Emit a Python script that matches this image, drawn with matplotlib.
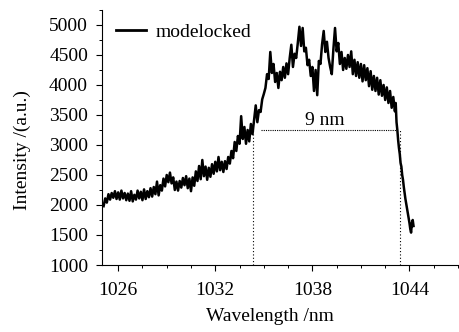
import matplotlib
matplotlib.use("Agg")
import matplotlib.pyplot as plt
from matplotlib.ticker import MultipleLocator, FixedLocator

plt.rcParams['font.family'] = ['Liberation Serif', 'DejaVu Serif']

# spectrum (nm, a.u.)
wavelength = [
    1025.1, 1025.2, 1025.3, 1025.4, 1025.5, 1025.6, 1025.7, 1025.8, 1025.9, 1026.0,
    1026.1, 1026.2, 1026.3, 1026.4, 1026.5, 1026.6, 1026.7, 1026.8, 1026.9, 1027.0,
    1027.1, 1027.2, 1027.3, 1027.4, 1027.5, 1027.6, 1027.7, 1027.8, 1027.9, 1028.0,
    1028.1, 1028.2, 1028.3, 1028.4, 1028.5, 1028.6, 1028.7, 1028.8, 1028.9, 1029.0,
    1029.1, 1029.2, 1029.3, 1029.4, 1029.5, 1029.6, 1029.7, 1029.8, 1029.9, 1030.0,
    1030.1, 1030.2, 1030.3, 1030.4, 1030.5, 1030.6, 1030.7, 1030.8, 1030.9, 1031.0,
    1031.1, 1031.2, 1031.3, 1031.4, 1031.5, 1031.6, 1031.7, 1031.8, 1031.9, 1032.0,
    1032.1, 1032.2, 1032.3, 1032.4, 1032.5, 1032.6, 1032.7, 1032.8, 1032.9, 1033.0,
    1033.1, 1033.2, 1033.3, 1033.4, 1033.5, 1033.6, 1033.7, 1033.8, 1033.9, 1034.0,
    1034.1, 1034.2, 1034.3, 1034.4, 1034.5, 1034.6, 1034.7, 1034.8, 1034.9, 1035.0,
    1035.1, 1035.2, 1035.3, 1035.4, 1035.5, 1035.6, 1035.7, 1035.8, 1035.9, 1036.0,
    1036.1, 1036.2, 1036.3, 1036.4, 1036.5, 1036.6, 1036.7, 1036.8, 1036.9, 1037.0,
    1037.1, 1037.2, 1037.3, 1037.4, 1037.5, 1037.6, 1037.7, 1037.8, 1037.9, 1038.0,
    1038.1, 1038.2, 1038.3, 1038.4, 1038.5, 1038.6, 1038.7, 1038.8, 1038.9, 1039.0,
    1039.1, 1039.2, 1039.3, 1039.4, 1039.5, 1039.6, 1039.7, 1039.8, 1039.9, 1040.0,
    1040.1, 1040.2, 1040.3, 1040.4, 1040.5, 1040.6, 1040.7, 1040.8, 1040.9, 1041.0,
    1041.1, 1041.2, 1041.3, 1041.4, 1041.5, 1041.6, 1041.7, 1041.8, 1041.9, 1042.0,
    1042.1, 1042.2, 1042.3, 1042.4, 1042.5, 1042.6, 1042.7, 1042.8, 1042.9, 1043.0,
    1043.1, 1043.15, 1043.2, 1043.25, 1043.3, 1043.35, 1043.4, 1043.45, 1043.5, 1043.55,
    1043.6, 1043.65, 1043.7, 1043.75, 1043.8, 1043.85, 1043.9, 1043.95, 1044.0, 1044.05,
    1044.1, 1044.15, 1044.2, 1044.25,
]
intensity = [
    1980, 2110, 2040, 2180, 2090, 2200, 2120, 2230, 2100, 2210,
    2090, 2240, 2110, 2200, 2080, 2190, 2070, 2230, 2060, 2170,
    2090, 2240, 2110, 2220, 2080, 2260, 2100, 2230, 2130, 2280,
    2140, 2300, 2180, 2390, 2160, 2330, 2240, 2440, 2310, 2500,
    2380, 2540, 2360, 2460, 2250, 2390, 2240, 2400, 2290, 2450,
    2330, 2480, 2280, 2440, 2230, 2460, 2320, 2560, 2400, 2650,
    2430, 2750, 2480, 2640, 2420, 2620, 2470, 2680, 2520, 2720,
    2560, 2800, 2580, 2720, 2550, 2730, 2600, 2800, 2690, 2900,
    2780, 3050, 2900, 3150, 3020, 3480, 3100, 3300, 3020, 3250,
    3060, 3350, 3180, 3420, 3660, 3380, 3580, 3550, 3760, 3850,
    3950, 4180, 4100, 4550, 4200, 4350, 4050, 4200, 3950, 4220,
    4080, 4300, 4120, 4360, 4180, 4450, 4670, 4300, 4520, 4450,
    4700, 4970, 4650, 4950, 4560, 4620, 4330, 4420, 4150, 4300,
    3900, 4250, 3830, 4400, 4350, 4680, 4900, 4550, 4720, 4450,
    4300, 4180, 4600, 4950, 4560, 4700, 4350, 4550, 4250, 4450,
    4270, 4500, 4300, 4560, 4180, 4420, 4150, 4380, 4120, 4350,
    4060, 4330, 4080, 4280, 3980, 4230, 3920, 4150, 3900, 4120,
    3840, 4080, 3820, 4000, 3750, 3960, 3700, 3900, 3620, 3800,
    3560, 3700, 3380, 3250, 3080, 2950, 2850, 2700, 2640, 2500,
    2420, 2300, 2200, 2100, 2020, 1940, 1850, 1780, 1700, 1600,
    1540, 1700, 1750, 1650,
]

# FWHM marker
fwhm_left = 1034.35
fwhm_right = 1043.4
fwhm_level = 3250
fwhm_label = "9 nm"

fs = 14

fig = plt.figure(figsize=(4.6, 3.32), dpi=100)
ax = fig.add_axes([0.2217, 0.2018, 0.774, 0.7682])

ax.plot(wavelength, intensity, color='black', lw=1.8, label='modelocked')

# dotted guide lines
ax.plot([fwhm_left + 0.45, fwhm_right - 0.2], [fwhm_level, fwhm_level], color='black', lw=0.8, ls=(0, (1, 1)))
ax.plot([fwhm_left, fwhm_left], [1000, fwhm_level], color='black', lw=0.8, ls=(0, (1, 2)))
ax.plot([fwhm_right, fwhm_right], [1000, fwhm_level], color='black', lw=0.8, ls=(0, (1, 2)))
ax.text((fwhm_left + fwhm_right) / 2 - 0.1, 3330, fwhm_label, ha='center', va='baseline', fontsize=fs)

ax.set_xlim(1025, 1047)
ax.set_ylim(1000, 5250)
ax.spines['top'].set_visible(False)
ax.spines['right'].set_visible(False)

ax.xaxis.set_major_locator(FixedLocator([1026, 1032, 1038, 1044]))
ax.xaxis.set_minor_locator(MultipleLocator(1.5))
ax.yaxis.set_major_locator(MultipleLocator(500))
ax.yaxis.set_minor_locator(MultipleLocator(250))
ax.tick_params(which='major', direction='out', length=4, width=0.8, labelsize=fs)
ax.tick_params(which='minor', direction='out', length=2.5, width=0.7)
ax.tick_params(axis='y', pad=6)
ax.tick_params(axis='x', pad=8)

ax.set_xlabel('Wavelength /nm', fontsize=fs)
ax.set_ylabel('Intensity /(a.u.)', fontsize=fs)
ax.xaxis.set_label_coords(0.472, -0.17)
ax.yaxis.set_label_coords(-0.20, 0.451)

leg = ax.legend(loc='upper left', bbox_to_anchor=(0.0, 1.0), frameon=False, fontsize=fs,
                handlelength=1.55, handletextpad=0.5, borderaxespad=0.3)
for h in leg.get_lines():
    h.set_linewidth(2)

fig.savefig('out.png', dpi=100)
